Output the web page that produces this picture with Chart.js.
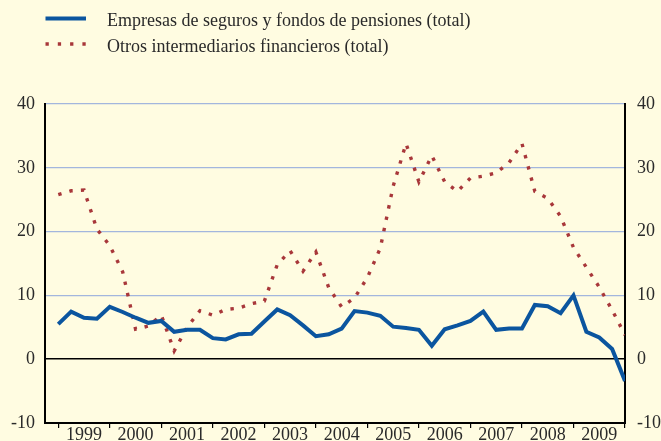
<!DOCTYPE html>
<html>
<head>
<meta charset="utf-8">
<script src="https://cdn.jsdelivr.net/npm/chart.js@4/dist/chart.umd.min.js"></script>
<style>
  html, body { margin: 0; padding: 0; background: #FFFCE1; }
  canvas { display: block; }
</style>
</head>
<body>
<canvas id="c" width="661" height="441"></canvas>
<script>
// Quarterly observations (45 points), year labels centred between ticks
const years = ["1999","2000","2001","2002","2003","2004","2005","2006","2007","2008","2009"];
const seriesNames = [
  "Empresas de seguros y fondos de pensiones (total)",
  "Otros intermediarios financieros (total)"
];
const seguros = [5.5, 7.45, 6.5, 6.35, 8.2, 7.4, 6.5, 5.7, 6.0, 4.3, 4.6, 4.6, 3.3, 3.1, 3.9, 4.0,
  5.9, 7.8, 6.9, 5.3, 3.6, 3.9, 4.8, 7.55, 7.3, 6.8, 5.1, 4.9, 4.6, 2.1, 4.7, 5.3,
  6.0, 7.45, 4.6, 4.8, 4.8, 8.5, 8.3, 7.2, 10.0, 4.3, 3.4, 1.6, -3.4];
const otros = [25.8, 26.4, 26.5, 20.4, 17.8, 13.7, 4.7, 5.2, 6.9, 1.3, 5.0, 7.6, 6.9, 7.8, 8.0, 8.7,
  9.1, 14.8, 17.0, 13.8, 16.8, 11.2, 8.2, 9.6, 12.8, 17.4, 27.1, 33.8, 27.8, 31.9, 27.8, 26.3,
  28.4, 28.7, 29.2, 30.8, 33.8, 26.3, 25.2, 22.4, 17.5, 14.4, 11.3, 7.7, 3.8];
const yTicks = [-10, 0, 10, 20, 30, 40];

const FONT = "'Liberation Serif', 'Times New Roman', serif";
const BLUE = "#0B559F";
const RED = "#A8373A";
const GRID = "#A3B6DD";
const TEXT = "#2a2a2a";

const toXY = arr => arr.map((v, i) => ({x: i, y: v}));

const legendPlugin = {
  id: 'customLegend',
  afterDraw(chart) {
    const ctx = chart.ctx;
    const rows = [{y: 18.5, ty: 26}, {y: 44, ty: 52}];
    chart.data.datasets.forEach((ds, i) => {
      const r = rows[i];
      ctx.save();
      ctx.strokeStyle = ds.borderColor;
      ctx.lineWidth = ds.borderWidth;
      ctx.lineCap = 'butt';
      ctx.setLineDash(i === 1 ? [3.3, 9] : []);
      ctx.beginPath();
      ctx.moveTo(45.5, r.y);
      ctx.lineTo(86, r.y);
      ctx.stroke();
      ctx.setLineDash([]);
      ctx.fillStyle = TEXT;
      ctx.font = "18px " + FONT;
      ctx.textBaseline = 'alphabetic';
      ctx.textAlign = 'left';
      ctx.fillText(ds.label, 107, r.ty);
      ctx.restore();
    });
  }
};

const fitY = w => s => { s.width = w; s.paddingTop = 0; s.paddingBottom = 0; };

new Chart(document.getElementById('c'), {
  type: 'line',
  data: {
    datasets: [
      {
        label: seriesNames[0],
        data: toXY(seguros),
        borderColor: BLUE,
        borderWidth: 4,
        pointRadius: 0,
        tension: 0,
        borderJoinStyle: 'miter',
        yAxisID: 'y'
      },
      {
        label: seriesNames[1],
        data: toXY(otros),
        borderColor: RED,
        borderWidth: 3.4,
        borderDash: [3.4, 8.2],
        borderCapStyle: 'butt',
        pointRadius: 0,
        tension: 0,
        yAxisID: 'y'
      }
    ]
  },
  options: {
    responsive: false,
    animation: false,
    devicePixelRatio: 1,
    layout: { padding: { top: 104, left: 0, right: 0, bottom: 0 } },
    plugins: { legend: { display: false }, tooltip: { enabled: false } },
    scales: {
      x: {
        type: 'linear',
        min: -1.03,
        max: 44,
        position: 'bottom',
        afterFit: s => { s.height = 18; s.paddingLeft = 0; s.paddingRight = 0; },
        afterBuildTicks: s => {
          const t = [];
          for (let v = 0; v <= 44; v += 2) t.push({value: v});
          s.ticks = t;
        },
        ticks: {
          autoSkip: false,
          maxRotation: 0,
          padding: -4,
          color: TEXT,
          font: { family: FONT, size: 18 },
          callback: v => (v % 4 === 2 ? years[(v - 2) / 4] : '')
        },
        grid: {
          drawOnChartArea: false,
          drawTicks: true,
          tickLength: 5,
          lineWidth: 1.2,
          color: ctx => (ctx.tick && ctx.tick.value % 4 === 0 ? '#000' : 'rgba(0,0,0,0)')
        },
        border: { display: true, color: '#000', width: 2 }
      },
      y: {
        type: 'linear',
        position: 'left',
        min: -10,
        max: 40,
        afterFit: fitY(45),
        afterBuildTicks: s => { s.ticks = yTicks.map(v => ({value: v})); },
        ticks: {
          padding: 10,
          color: TEXT,
          font: { family: FONT, size: 18 },
          callback: v => String(v)
        },
        grid: {
          drawTicks: false,
          lineWidth: ctx => (ctx.tick && ctx.tick.value === 0 ? 1.6 : 1.2),
          color: ctx => {
            if (!ctx.tick) return GRID;
            if (ctx.tick.value === 0) return '#000';
            if (ctx.tick.value === -10) return 'rgba(0,0,0,0)';
            return GRID;
          }
        },
        border: { display: true, color: '#000', width: 2 }
      },
      y2: {
        type: 'linear',
        position: 'right',
        min: -10,
        max: 40,
        afterFit: fitY(36),
        afterBuildTicks: s => { s.ticks = yTicks.map(v => ({value: v})); },
        ticks: {
          padding: 12,
          color: TEXT,
          font: { family: FONT, size: 18 },
          callback: v => String(v)
        },
        grid: { display: true, drawOnChartArea: false, drawTicks: false },
        border: { display: true, color: '#000', width: 2 }
      }
    }
  },
  plugins: [legendPlugin]
});
</script>
</body>
</html>
